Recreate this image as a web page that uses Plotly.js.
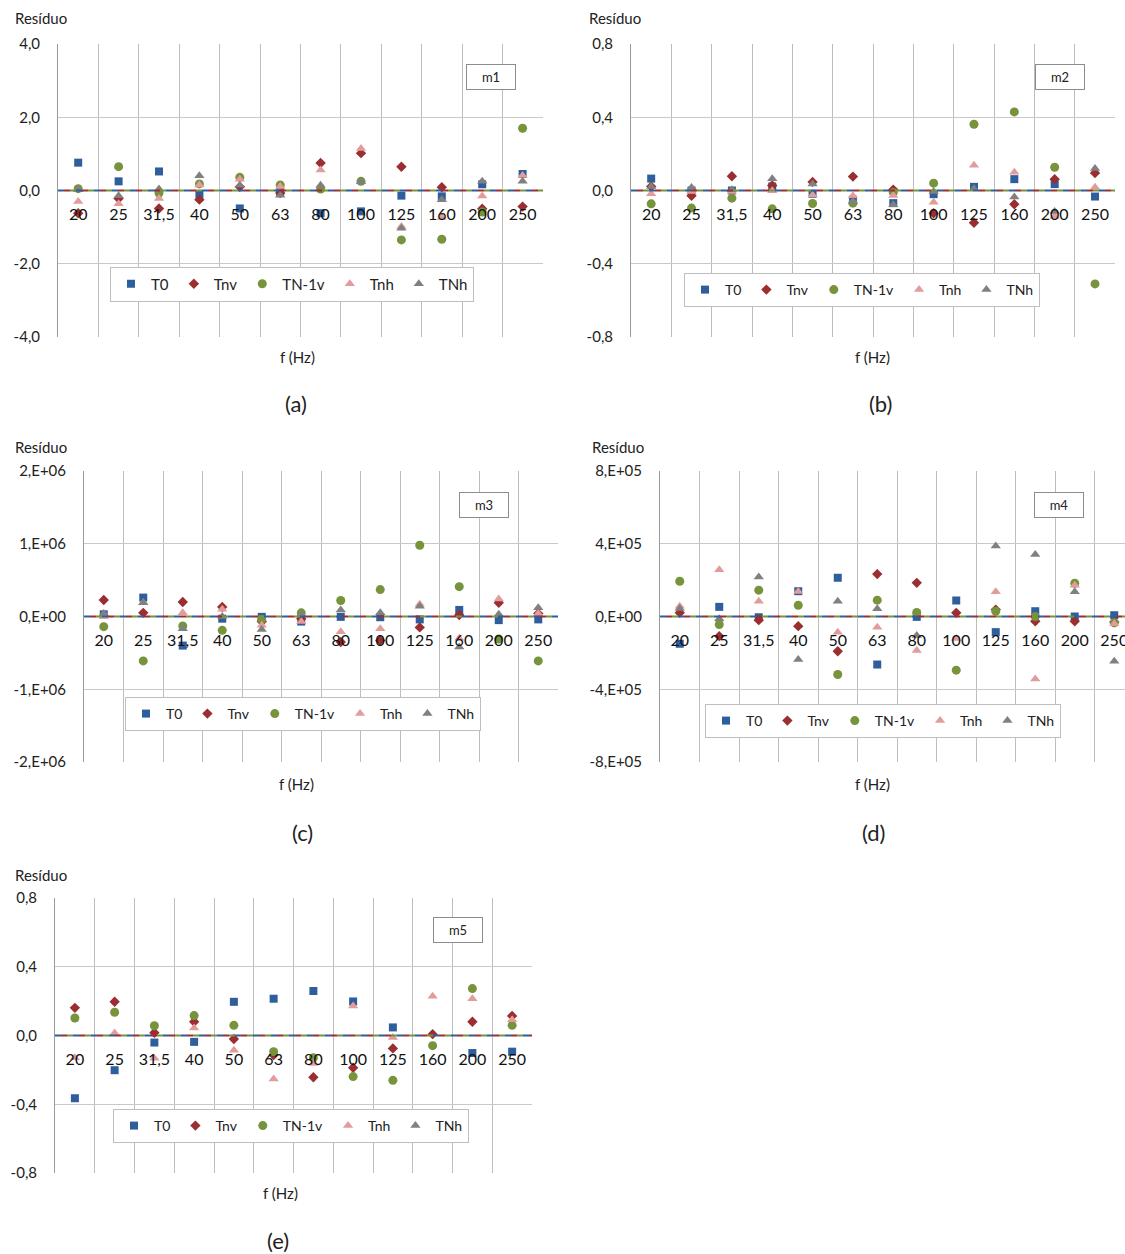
<!DOCTYPE html>
<html>
<head>
<meta charset="utf-8">
<script src="https://cdn.plot.ly/plotly-3.0.1.min.js"></script>
<style>html,body{margin:0;padding:0;background:#fff}#chart{width:1125px;height:1254px}</style>
</head>
<body>
<div id="chart"></div>
<script>
// ---------- data ----------
const categories = ['20','25','31,5','40','50','63','80','100','125','160','200','250'];
const seriesNames = ['T0','Tnv','TN-1v','Tnh','TNh'];
const panelNames = ['m1','m2','m3','m4','m5'];
const panelLetters = ['(a)','(b)','(c)','(d)','(e)'];

const m1_T0   = [0.76, 0.25, 0.52, -0.10, -0.49, -0.04, -0.62, -0.57, -0.14, -0.16, 0.17, 0.45];
const m1_Tnv  = [-0.62, -0.22, -0.49, -0.25, 0.10, -0.07, 0.75, 1.02, 0.65, 0.09, -0.50, -0.44];
const m1_TN1v = [0.05, 0.65, -0.07, 0.18, 0.36, 0.15, 0.04, 0.25, -1.35, -1.33, -0.59, 1.70];
const m1_Tnh  = [-0.30, -0.36, -0.22, 0.15, 0.31, 0.11, 0.56, 1.15, -0.98, -0.74, -0.15, 0.41];
const m1_TNh  = [0.02, -0.14, 0.04, 0.40, 0.14, -0.13, 0.14, 0.24, -1.03, -0.25, 0.25, 0.25];

const m2_T0   = [0.065, 0.0, 0.0, 0.022, -0.018, -0.05, -0.069, -0.02, 0.02, 0.062, 0.035, -0.033];
const m2_Tnv  = [0.022, -0.029, 0.078, 0.027, 0.047, 0.076, 0.005, -0.124, -0.176, -0.075, 0.062, 0.095];
const m2_TN1v = [-0.073, -0.096, -0.042, -0.10, -0.071, -0.069, -0.011, 0.04, 0.362, 0.429, 0.127, -0.51];
const m2_Tnh  = [-0.018, -0.005, -0.005, -0.002, -0.024, -0.029, -0.027, -0.064, 0.138, 0.10, -0.142, 0.018];
const m2_TNh  = [0.022, 0.016, 0.004, 0.064, 0.036, -0.06, -0.078, -0.005, 0.009, -0.036, -0.115, 0.12];

const m3_T0   = [30000, 260000, -400000, -30000, -5000, -70000, -5000, -10000, -40000, 90000, -50000, -40000];
const m3_Tnv  = [227000, 50000, 200000, 130000, -70000, -30000, -350000, -330000, -150000, 20000, 190000, 40000];
const m3_TN1v = [-140000, -610000, -130000, -190000, -40000, 50000, 220000, 370000, 980000, 410000, -310000, -610000];
const m3_Tnh  = [0, 190000, 50000, 100000, -120000, -70000, -210000, -170000, 170000, -300000, 240000, 40000];
const m3_TNh  = [40000, 190000, -170000, 0, -180000, 30000, 90000, 50000, 140000, -420000, 30000, 120000];

const m4_T0   = [-150000, 53000, -4000, 139000, 213000, -264000, -2000, 88000, -86000, 29000, 0, 7000];
const m4_Tnv  = [20000, -108000, -20000, -53000, -191000, 233000, 185000, 20000, 38000, -26000, -26000, -30000];
const m4_TN1v = [194000, -44000, 145000, 62000, -319000, 90000, 22000, -295000, 29000, 0, 183000, -35000];
const m4_Tnh  = [57000, 257000, 84000, 138000, -86000, -59000, -187000, -121000, 136000, -343000, 172000, -40000];
const m4_TNh  = [44000, -13000, 217000, -237000, 84000, 42000, -105000, null, 387000, 341000, 136000, -246000];

const m5_T0   = [-0.365, -0.202, -0.041, -0.037, 0.196, 0.214, 0.259, 0.198, 0.047, null, -0.102, -0.094];
const m5_Tnv  = [0.161, 0.196, 0.016, 0.08, -0.02, -0.114, -0.243, -0.188, -0.075, 0.008, 0.08, 0.114];
const m5_TN1v = [0.102, 0.135, 0.057, 0.116, 0.059, -0.094, -0.13, -0.239, -0.261, -0.059, 0.273, 0.059];
const m5_Tnh  = [-0.13, 0.014, -0.133, 0.043, -0.086, -0.253, -0.163, 0.171, -0.012, 0.229, 0.214, 0.092];
const m5_TNh  = [null, null, null, null, null, null, null, null, null, null, null, null];

const yTickVals = [
  [-4, -2, 0, 2, 4],
  [-0.8, -0.4, 0, 0.4, 0.8],
  [-2e6, -1e6, 0, 1e6, 2e6],
  [-8e5, -4e5, 0, 4e5, 8e5],
  [-0.8, -0.4, 0, 0.4, 0.8]
];
const yTickText = [
  ['-4,0', '-2,0', '0,0', '2,0', '4,0'],
  ['-0,8', '-0,4', '0,0', '0,4', '0,8'],
  ['-2,E+06', '-1,E+06', '0,E+00', '1,E+06', '2,E+06'],
  ['-8,E+05', '-4,E+05', '0,E+00', '4,E+05', '8,E+05'],
  ['-0,8', '-0,4', '0,0', '0,4', '0,8']
];

const panelData = [
  [m1_T0, m1_Tnv, m1_TN1v, m1_Tnh, m1_TNh],
  [m2_T0, m2_Tnv, m2_TN1v, m2_Tnh, m2_TNh],
  [m3_T0, m3_Tnv, m3_TN1v, m3_Tnh, m3_TNh],
  [m4_T0, m4_Tnv, m4_TN1v, m4_Tnh, m4_TNh],
  [m5_T0, m5_Tnv, m5_TN1v, m5_Tnh, m5_TNh]
];

// ---------- styling / geometry ----------
const W = 1125, H = 1254;
const FONT = 'Lato, "Open Sans", sans-serif';
const colors = ['#2F5E9C', '#9A2E30', '#77933C', '#E39C9C', '#808080'];
const symbols = ['square', 'diamond', 'circle', 'triangle-up', 'triangle-up'];
const sizes = [8, 8, 9, 9, 9];

// pixel boxes of each plot area: [left, right, top, bottom], plus category pitch
const boxes = [
  {l: 58, r: 543, t: 44, b: 337, pitch: 40.4, legX: 292, legY: 284, legF: 15, tagX: 491, tagY: 77, resX: 13, resY: 18, fx: 297, fy: 357, lx: 296, ly: 403},
  {l: 631, r: 1115, t: 44, b: 337, pitch: 40.35, legX: 862, legY: 290, legF: 14, tagX: 1060, tagY: 77, resX: 587, resY: 18, fx: 872, fy: 357, lx: 880, ly: 403},
  {l: 84, r: 558, t: 471, b: 762, pitch: 39.5, legX: 303, legY: 714, legF: 14, tagX: 484, tagY: 505, resX: 13, resY: 447, fx: 296, fy: 784, lx: 302, ly: 832},
  {l: 660, r: 1125, t: 471, b: 762, pitch: 39.5, legX: 883, legY: 721, legF: 14, tagX: 1059, tagY: 505, resX: 590, resY: 447, fx: 872, fy: 784, lx: 873, ly: 832},
  {l: 55, r: 532, t: 898, b: 1173, pitch: 39.75, legX: 291, legY: 1126, legF: 14, tagX: 458, tagY: 930, resX: 13, resY: 875, fx: 280, fy: 1193, lx: 278, ly: 1240}
];

const px = v => v / W;
const py = v => 1 - v / H;

const traces = [];
const layout = {
  width: W, height: H,
  margin: {l: 0, r: 0, t: 0, b: 0, pad: 0},
  paper_bgcolor: '#ffffff', plot_bgcolor: '#ffffff',
  separators: ',.',
  font: {family: FONT, size: 15, color: '#222'},
  showlegend: true,
  annotations: [],
  shapes: []
};

boxes.forEach((b, i) => {
  const n = i + 1;
  const xa = 'xaxis' + (n > 1 ? n : '');
  const ya = 'yaxis' + (n > 1 ? n : '');
  const xr = 'x' + (n > 1 ? n : '');
  const yr = 'y' + (n > 1 ? n : '');
  const lg = 'legend' + (n > 1 ? n : '');
  const zeroPx = (b.t + b.b) / 2;
  const xEnd = -0.5 + (b.r - b.l) / b.pitch;
  const yv = yTickVals[i];

  layout[xa] = {
    domain: [px(b.l), px(b.r)],
    type: 'category',
    categoryorder: 'array',
    categoryarray: categories,
    range: [-0.5, xEnd],
    tickson: 'boundaries',
    anchor: 'free',
    position: py(zeroPx),
    showgrid: true,
    gridcolor: '#BDBDBD',
    gridwidth: 1,
    showline: false,
    zeroline: false,
    ticks: '',
    ticklabelstandoff: 12,
    tickfont: {family: FONT, size: 16, color: '#111'},
    fixedrange: true
  };
  layout[ya] = {
    domain: [py(b.b), py(b.t)],
    anchor: xr,
    range: [yv[0], yv[yv.length - 1]],
    tickmode: 'array',
    tickvals: yv,
    ticktext: yTickText[i],
    showgrid: true,
    gridcolor: '#C9C9C9',
    gridwidth: 1,
    zeroline: true,
    zerolinecolor: '#000000',
    zerolinewidth: 1,
    showline: true,
    linecolor: '#9A9A9A',
    linewidth: 1,
    ticks: '',
    ticklabelstandoff: 14,
    tickfont: {family: FONT, size: 15, color: '#222'},
    fixedrange: true
  };

  panelData[i].forEach((vals, s) => {
    traces.push({
      type: 'scatter', mode: 'markers',
      x: categories, y: vals,
      name: seriesNames[s],
      xaxis: xr, yaxis: yr,
      legend: lg,
      marker: {symbol: symbols[s], size: sizes[s], color: colors[s], line: {width: 0}},
      hoverinfo: 'x+y+name'
    });
  });

  layout[lg] = {
    orientation: 'h',
    x: px(b.legX), y: py(b.legY),
    xanchor: 'center', yanchor: 'middle',
    bgcolor: '#ffffff',
    bordercolor: '#BEBEBE', borderwidth: 1,
    font: {family: FONT, size: b.legF, color: '#222'},
    itemclick: false, itemdoubleclick: false
  };

  // dashed colored zero-level lines (trend lines of the series at y=0)
  const dashes = ['6px,12px', '0px,6px,6px,6px', '0px,12px,6px,0px'];
  [0, 1, 2].forEach(k => {
    layout.shapes.push({
      type: 'line', xref: xr + ' domain', yref: yr,
      x0: 0, x1: 1, y0: 0, y1: 0,
      line: {color: colors[k], width: 2, dash: dashes[k]},
      layer: 'above'
    });
  });

  // texts
  layout.annotations.push({
    xref: 'paper', yref: 'paper', x: px(b.resX), y: py(b.resY),
    xanchor: 'left', yanchor: 'middle', showarrow: false,
    text: 'Resíduo', font: {family: FONT, size: 15, color: '#222'}
  });
  layout.annotations.push({
    xref: 'paper', yref: 'paper', x: px(b.fx), y: py(b.fy),
    xanchor: 'center', yanchor: 'middle', showarrow: false,
    text: 'f (Hz)', font: {family: FONT, size: 15, color: '#222'}
  });
  layout.annotations.push({
    xref: 'paper', yref: 'paper', x: px(b.lx), y: py(b.ly),
    xanchor: 'center', yanchor: 'middle', showarrow: false,
    text: panelLetters[i], font: {family: FONT, size: 22, color: '#222'}
  });
  layout.annotations.push({
    xref: 'paper', yref: 'paper', x: px(b.tagX), y: py(b.tagY),
    xanchor: 'center', yanchor: 'middle', showarrow: false,
    text: panelNames[i], font: {family: FONT, size: 13, color: '#222'},
    width: 44, height: 20, borderpad: 2,
    bordercolor: '#8C8C8C', borderwidth: 1, bgcolor: '#ffffff'
  });
});

Plotly.newPlot('chart', traces, layout, {displayModeBar: false, staticPlot: true});
</script>
</body>
</html>
